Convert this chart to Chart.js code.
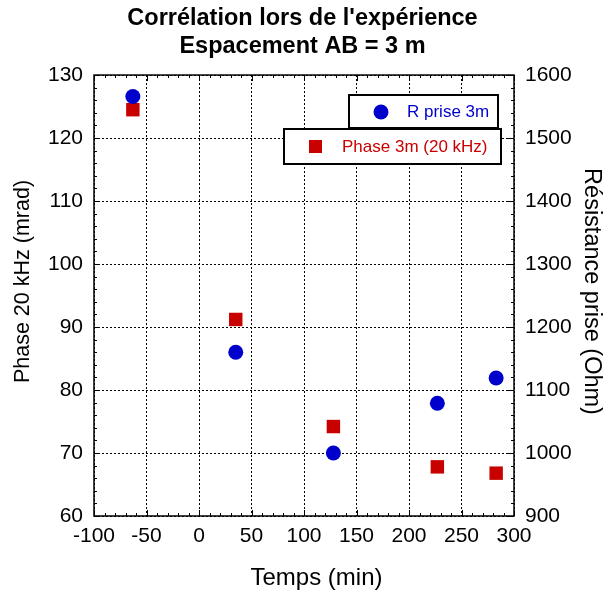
<!DOCTYPE html>
<html><head><meta charset="utf-8">
<script src="https://cdn.jsdelivr.net/npm/chart.js@4/dist/chart.umd.min.js"></script>
<style>html,body{margin:0;padding:0;background:#fff}#wrap{width:605px;height:593px}</style>
</head><body><div id="wrap"><canvas id="c" width="605" height="593"></canvas></div>
<script>
const timeMin = [-63, 35, 128, 227, 283];
const resistanceOhm = [1566, 1160, 1000, 1079, 1119];
const phaseMrad = [124.5, 91.2, 74.2, 67.8, 66.8];
const xTicks = [-100, -50, 0, 50, 100, 150, 200, 250, 300];
const leftTicks = [60, 70, 80, 90, 100, 110, 120, 130];
const rightTicks = [900, 1000, 1100, 1200, 1300, 1400, 1500, 1600];
const xTitle = 'Temps (min)';
const yLeftTitle = 'Phase 20 kHz (mrad)';
const yRightTitle = 'Résistance prise (Ohm)';
const BLUE = '#0000cc', RED = '#c80000';
const FONT = "'Liberation Sans', Arial, sans-serif";

const framePlugin = {
  id: 'frame',
  afterDraw(chart) {
    const {ctx, chartArea: a, scales} = chart;
    ctx.save();
    ctx.strokeStyle = '#000';
    ctx.lineWidth = 1;
    const xs = scales.x, yl = scales.y, yr = scales.y2;
    ctx.beginPath();
    for (let v = xTicks[0]; v <= xTicks[xTicks.length-1]; v += 10) {
      const p = Math.round(xs.getPixelForValue(v)) + 0.5;
      const len = (v % 50 === 0) ? 6 : 3;
      ctx.moveTo(p, a.bottom); ctx.lineTo(p, a.bottom - len);
      ctx.moveTo(p, a.top); ctx.lineTo(p, a.top + len);
    }
    for (let v = leftTicks[0]; v <= leftTicks[leftTicks.length-1]; v += 2) {
      const p = Math.round(yl.getPixelForValue(v)) + 0.5;
      const len = (v % 10 === 0) ? 6 : 3;
      ctx.moveTo(a.left, p); ctx.lineTo(a.left + len, p);
    }
    for (let v = rightTicks[0]; v <= rightTicks[rightTicks.length-1]; v += 20) {
      const p = Math.round(yr.getPixelForValue(v)) + 0.5;
      const len = (v % 100 === 0) ? 6 : 3;
      ctx.moveTo(a.right, p); ctx.lineTo(a.right - len, p);
    }
    ctx.stroke();
    ctx.lineWidth = 1.5;
    ctx.strokeRect(a.left, a.top, a.right - a.left, a.bottom - a.top);
    // legend boxes
    ctx.lineWidth = 2;
    ctx.fillStyle = '#fff';
    ctx.fillRect(349, 95, 149, 33); ctx.strokeRect(349, 95, 149, 33);
    ctx.fillRect(284, 129, 217, 35); ctx.strokeRect(284, 129, 217, 35);
    ctx.fillStyle = BLUE;
    ctx.beginPath(); ctx.arc(381, 112, 7.5, 0, Math.PI*2); ctx.fill();
    ctx.fillStyle = RED;
    ctx.fillRect(309, 140, 13, 13);
    ctx.font = '17px ' + FONT;
    ctx.textBaseline = 'middle';
    ctx.textAlign = 'left';
    ctx.fillStyle = BLUE;
    ctx.fillText('R prise 3m', 407, 112);
    ctx.fillStyle = RED;
    ctx.fillText('Phase 3m (20 kHz)', 342, 147);
    // axis titles
    ctx.fillStyle = '#000';
    ctx.textAlign = 'center';
    ctx.font = '24px ' + FONT;
    ctx.fillText(xTitle, 316.5, 578);
    ctx.save();
    ctx.translate(23, 281.5); ctx.rotate(-Math.PI / 2);
    ctx.font = '21.5px ' + FONT;
    ctx.fillText(yLeftTitle, 0, 0);
    ctx.restore();
    ctx.save();
    ctx.translate(591, 291.5); ctx.rotate(Math.PI / 2);
    ctx.font = '23.5px ' + FONT;
    ctx.fillText(yRightTitle, 0, 0);
    ctx.restore();
    ctx.restore();
  }
};

const tickFont = {family: FONT, size: 21};

new Chart(document.getElementById('c'), {
  type: 'scatter',
  data: {
    datasets: [
      {
        label: 'R prise 3m',
        data: timeMin.map((t, i) => ({x: t, y: resistanceOhm[i]})),
        yAxisID: 'y2',
        pointStyle: 'circle',
        pointRadius: 7.5,
        pointHoverRadius: 7.5,
        backgroundColor: BLUE,
        borderColor: BLUE,
        borderWidth: 0
      },
      {
        label: 'Phase 3m (20 kHz)',
        data: timeMin.map((t, i) => ({x: t, y: phaseMrad[i]})),
        yAxisID: 'y',
        pointStyle: 'rect',
        pointRadius: 9.5,
        pointHoverRadius: 9.5,
        backgroundColor: RED,
        borderColor: RED,
        borderWidth: 0
      }
    ]
  },
  options: {
    responsive: false,
    animation: false,
    events: [],
    layout: {padding: 0},
    plugins: {
      legend: {display: false},
      tooltip: {enabled: false},
      title: {
        display: true,
        text: ["Corrélation lors de l'expérience", 'Espacement AB = 3 m'],
        color: '#000',
        font: {family: FONT, size: 23.5, weight: 'bold', lineHeight: 1.22},
        padding: {top: 4, bottom: 13.7}
      }
    },
    scales: {
      x: {
        type: 'linear', min: -100, max: 300,
        afterFit(s) { s.height = 77; },
        afterBuildTicks(s) { s.ticks = xTicks.map(v => ({value: v})); },
        ticks: {color: '#000', font: tickFont, padding: 8, maxRotation: 0, callback: v => String(v)},
        grid: {color: '#000', lineWidth: 1, drawTicks: false},
        border: {display: false, dash: [2, 2]},
        title: {display: false}
      },
      y: {
        type: 'linear', position: 'left', min: 60, max: 130,
        afterFit(s) { s.width = 94; },
        afterBuildTicks(s) { s.ticks = leftTicks.map(v => ({value: v})); },
        ticks: {color: '#000', font: tickFont, padding: 11, callback: v => String(v)},
        grid: {color: '#000', lineWidth: 1, drawTicks: false},
        border: {display: false, dash: [2, 2]},
        title: {display: false}
      },
      y2: {
        type: 'linear', position: 'right', min: 900, max: 1600,
        afterFit(s) { s.width = 91; },
        afterBuildTicks(s) { s.ticks = rightTicks.map(v => ({value: v})); },
        ticks: {color: '#000', font: tickFont, padding: 11, callback: v => String(v)},
        grid: {display: false, drawTicks: false},
        border: {display: false},
        title: {display: false}
      }
    }
  },
  plugins: [framePlugin]
});
</script>
</body></html>
